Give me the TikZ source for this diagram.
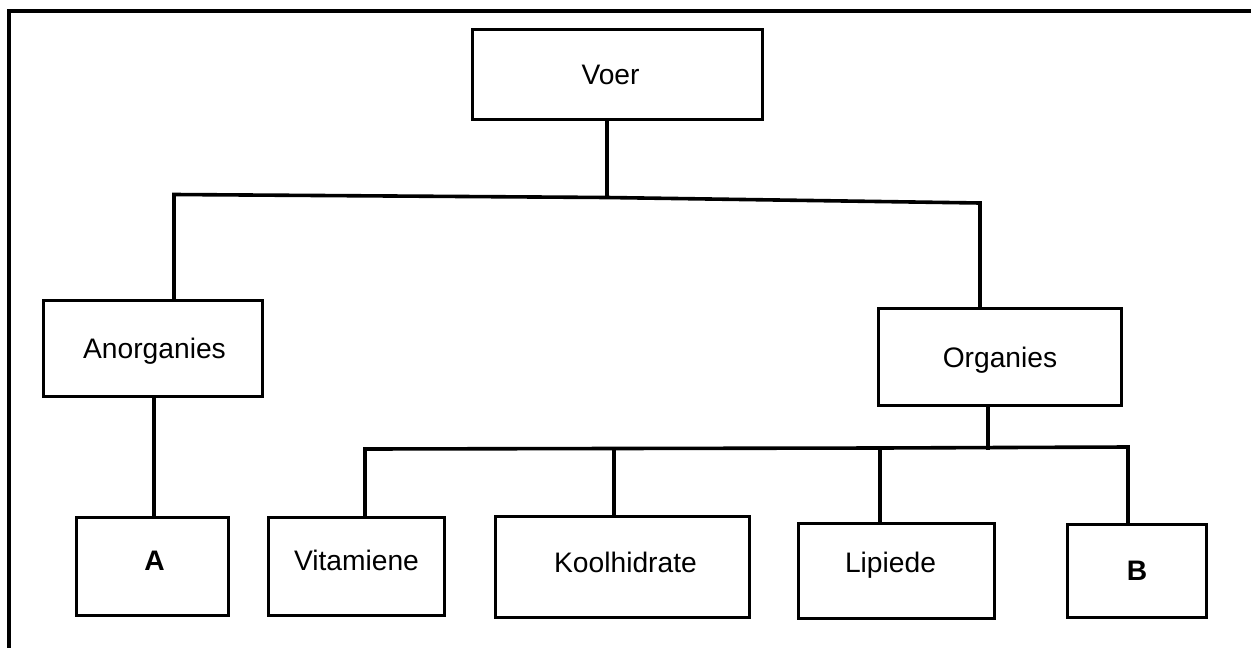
\documentclass[tikz,border=0pt]{standalone}
\usepackage{fontspec}
\setmainfont{Liberation Sans}
\begin{document}
\begin{tikzpicture}[x=1pt,y=-1pt,
  box/.style={draw=black, line width=3.6pt, rectangle, inner sep=0pt,
    font=\fontsize{28.2pt}{33pt}\selectfont, text height=20pt, text depth=0pt},
  txtlift/.style={text depth=#1},
  conn/.style={draw=black, line width=3.6pt, line cap=rect},
  framestyle/.style={draw=black, line width=4pt}]
\useasboundingbox (0,0) rectangle (1251,648);
% outer frame (cropped)
\draw[framestyle] (9,648) -- (9,11) -- (1251,11);

% boxes
\node[box, minimum width=290pt, minimum height=90pt] (voer) at (617.5,74.5) {Voer\kern14pt\relax};
\node[box, minimum width=219pt, minimum height=96pt] (anorg) at (153,348.5) {\hspace{3pt}Anorganies};
\node[box, minimum width=243pt, minimum height=97pt] (org) at (1000,357) {Organies};
\node[box, minimum width=152pt, minimum height=98pt, txtlift=12pt] (a) at (152.5,566.5) {\hspace{4pt}\textbf{A}};
\node[box, minimum width=176pt, minimum height=98pt, txtlift=13pt] (vit) at (356.5,566.5) {Vitamiene};
\node[box, minimum width=254pt, minimum height=101pt, txtlift=10pt] (kool) at (622.5,567) {\hspace{6pt}Koolhidrate};
\node[box, minimum width=196pt, minimum height=95pt, txtlift=18pt] (lip) at (896.5,571) {Lipiede\kern12pt\relax};
\node[box, minimum width=139pt, minimum height=93pt, txtlift=2pt] (b) at (1137,571) {\textbf{B}};

% junction coordinates
\coordinate (jL) at (174,194.5);
\coordinate (j1) at (607,197.5);
\coordinate (jR) at (980,203);
\coordinate (j2) at (988,448);
\coordinate (kV) at (365,449);
\coordinate (kK) at (614,448.5);
\coordinate (kLp) at (880,448);
\coordinate (kB) at (1128,447);

% upper level
\draw[conn] (voer.south -| j1) -- (j1);
\draw[conn] (jL) -- (j1) -- (jR);
\draw[conn] (jL) -- (jL |- anorg.north);
\draw[conn] (jR) -- (jR |- org.north);

% Anorganies to A
\draw[conn] (anorg.south -| 154,0) -- (a.north -| 154,0);

% Organies to children
\draw[conn] (org.south -| j2) -- (j2);
\draw[conn] (kV) -- (kK) -- (kLp) -- (kB);
\draw[conn] (kV) -- (kV |- vit.north);
\draw[conn] (kK) -- (kK |- kool.north);
\draw[conn] (kLp) -- (kLp |- lip.north);
\draw[conn] (kB) -- (kB |- b.north);
\end{tikzpicture}
\end{document}
